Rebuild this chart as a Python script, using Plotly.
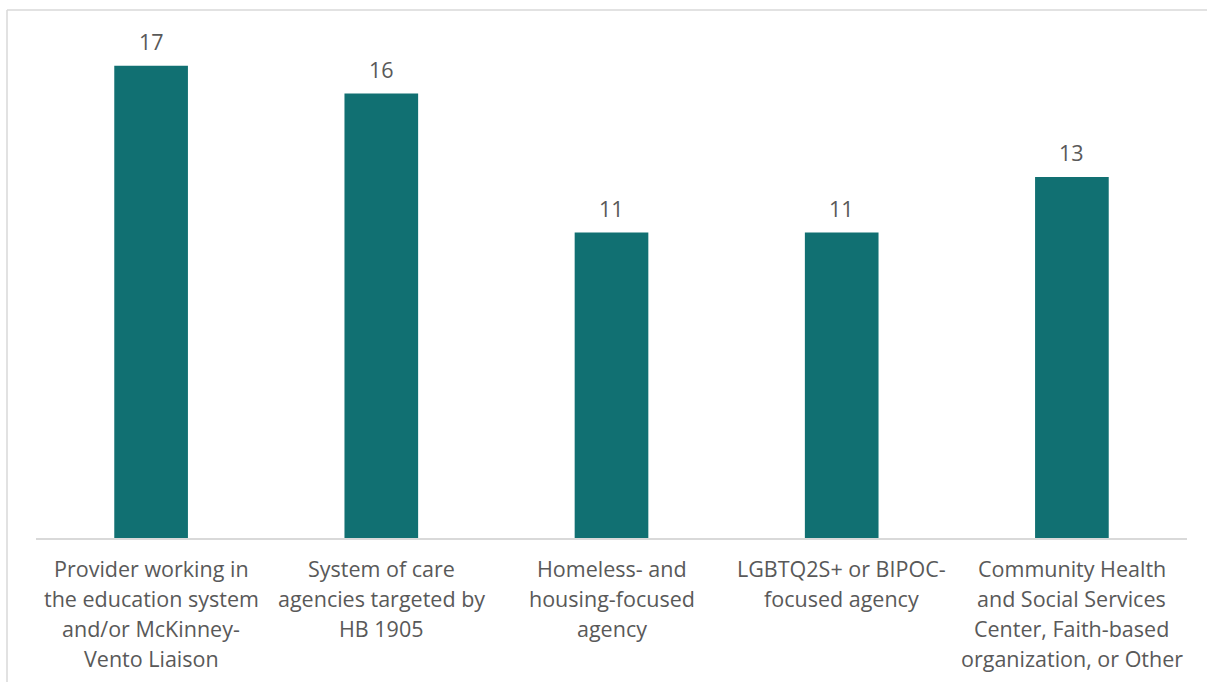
import plotly.graph_objects as go

# Survey respondent counts by organisation type
categories = [
    "Provider working in<br>the education system<br>and/or McKinney-<br>Vento Liaison",
    "System of care<br>agencies targeted by<br>HB 1905",
    "Homeless- and<br>housing-focused<br>agency",
    "LGBTQ2S+ or BIPOC-<br>focused agency",
    "Community Health<br>and Social Services<br>Center, Faith-based<br>organization, or Other",
]
counts = [17, 16, 11, 11, 13]

BAR_COLOR = "#117072"
TEXT_COLOR = "#595959"
FONT = "Open Sans"
FONT_SIZE = 21.5

W, H = 1207, 682
left, right, top, bottom = 36, 1187, 38, 538
x_idx = list(range(len(categories)))

fig = go.Figure(
    go.Bar(
        x=x_idx,
        y=counts,
        marker=dict(color=BAR_COLOR, line=dict(width=0)),
        width=0.32,
        hoverinfo="skip",
    )
)

annotations = []
# value labels above each bar
for i, v in zip(x_idx, counts):
    annotations.append(dict(
        x=i, y=v, xref="x", yref="y", text=str(v), showarrow=False,
        yshift=24, font=dict(family=FONT, size=FONT_SIZE, color=TEXT_COLOR),
    ))
# category labels, one line at a time for even line spacing
for i, label in zip(x_idx, categories):
    for j, line in enumerate(label.split("<br>")):
        annotations.append(dict(
            x=i, y=0, xref="x", yref="y", text=line, showarrow=False,
            yshift=-30 - 30 * j, font=dict(family=FONT, size=FONT_SIZE, color=TEXT_COLOR),
        ))

plot_w = right - left
plot_h = bottom - top
frame_x = (7 - left) / plot_w
frame_y = (bottom - 10) / plot_h

fig.update_layout(
    width=W, height=H,
    margin=dict(l=left, r=W - right, t=top, b=H - bottom, pad=0),
    paper_bgcolor="white", plot_bgcolor="white",
    showlegend=False,
    bargap=0.68,
    xaxis=dict(range=[-0.5, len(categories) - 0.5], showticklabels=False,
               showgrid=False, zeroline=False, showline=True,
               linecolor="#d9d9d9", linewidth=1.5, ticks=""),
    yaxis=dict(range=[0, 18], visible=False, showgrid=False, zeroline=False),
    annotations=annotations,
    shapes=[
        dict(type="line", xref="paper", yref="paper", x0=frame_x, x1=1.05,
             y0=frame_y, y1=frame_y, line=dict(color="#d9d9d9", width=1.5)),
        dict(type="line", xref="paper", yref="paper", x0=frame_x, x1=frame_x,
             y0=frame_y, y1=-0.4, line=dict(color="#d9d9d9", width=1.5)),
    ],
    font=dict(family=FONT, color=TEXT_COLOR),
)

fig.write_html("out.html", config={"displayModeBar": False})
